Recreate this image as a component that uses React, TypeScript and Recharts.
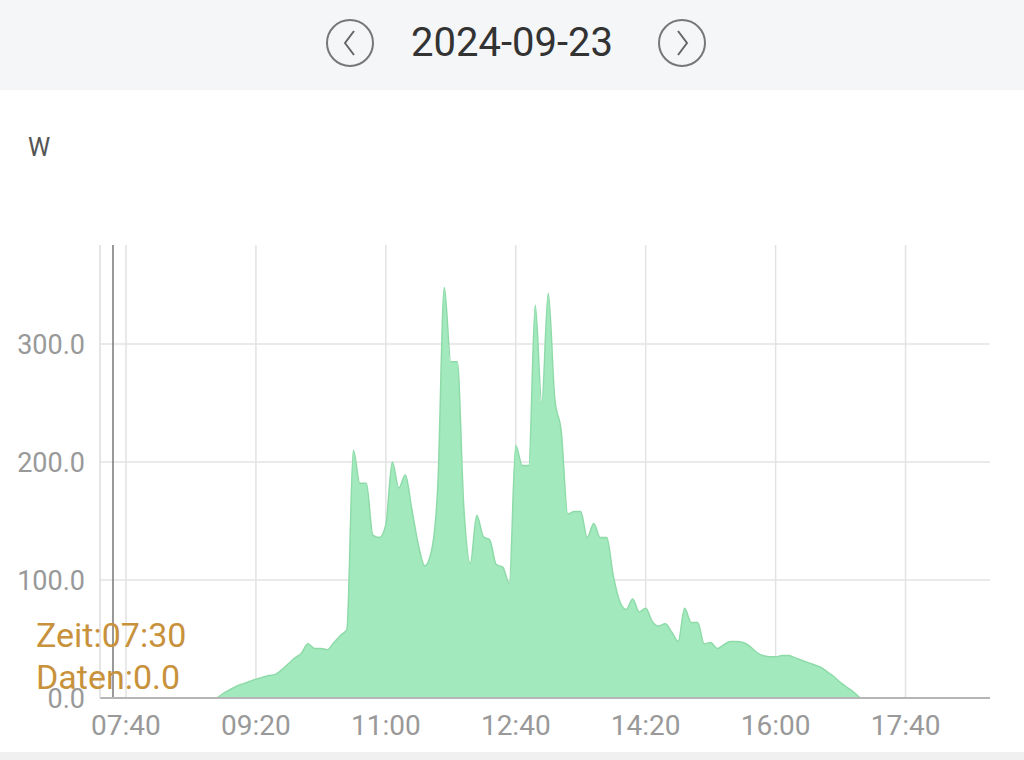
import { AreaChart, Area, XAxis, YAxis, CartesianGrid, ReferenceLine } from "recharts";

const times = [
    "08:50", "08:55", "09:00", "09:05", "09:10", "09:15", "09:20", "09:25", "09:30", "09:35",
    "09:40", "09:45", "09:50", "09:55", "10:00", "10:05", "10:10", "10:15", "10:20", "10:25",
    "10:30", "10:35", "10:40", "10:45", "10:50", "10:55", "11:00", "11:05", "11:10", "11:15",
    "11:20", "11:25", "11:30", "11:35", "11:40", "11:45", "11:50", "11:55", "12:00", "12:05",
    "12:10", "12:15", "12:20", "12:25", "12:30", "12:35", "12:40", "12:45", "12:50", "12:55",
    "13:00", "13:05", "13:10", "13:15", "13:20", "13:25", "13:30", "13:35", "13:40", "13:45",
    "13:50", "13:55", "14:00", "14:05", "14:10", "14:15", "14:20", "14:25", "14:30", "14:35",
    "14:40", "14:45", "14:50", "14:55", "15:00", "15:05", "15:10", "15:15", "15:20", "15:25",
    "15:30", "15:35", "15:40", "15:45", "15:50", "15:55", "16:00", "16:05", "16:10", "16:15",
    "16:20", "16:25", "16:30", "16:35", "16:40", "16:45", "16:50", "16:55", "17:00", "17:05",
]

const watts = [
    0, 4, 7, 10, 12, 14, 16, 17.5, 19, 20,
    24, 29, 34, 38, 46, 42, 42, 41, 47, 53,
    58, 210, 182, 182, 138, 136, 147, 200, 178, 189,
    160, 130, 112, 124, 180, 348, 285, 285, 162, 114,
    155, 137, 134, 113, 111, 97, 214, 197, 197, 333,
    250, 343, 254, 226, 156, 158, 158, 136, 148, 136,
    136, 104, 82, 75, 84, 73, 76, 65, 61, 63,
    56, 48, 76, 64, 64, 46, 47, 42, 45, 48,
    48, 47, 44, 39, 36, 35, 35, 36, 36, 34,
    32, 30, 28, 26, 22, 18, 13, 9, 5, 0,
]

const xTicks = ["07:40", "09:20", "11:00", "12:40", "14:20", "16:00", "17:40"]
const yTicks = [0, 100, 200, 300]

const xStart = "07:20"
const xEnd = "18:45"
const yMax = 384
const cursorTime = "07:30"
const cursorValue = 0

const toMin = (t: string) => {
    const [h, m] = t.split(":").map(Number)
    return h * 60 + m
}

const toTime = (v: number) => {
    const h = Math.floor(v / 60)
    const m = v % 60
    return `${String(h).padStart(2, "0")}:${String(m).padStart(2, "0")}`
}

const data = times.map((t, i) => ({ t: toMin(t), w: watts[i] }))

// grid only at the tick values, no frame round the plot
const hLines = ({ offset }: any) =>
    yTicks.filter(v => v > 0).map(v => offset.top + offset.height * (1 - v / yMax))
const vLines = ({ offset }: any) => {
    const a = toMin(xStart)
    const b = toMin(xEnd)
    return xTicks.map(t => offset.left + (offset.width * (toMin(t) - a)) / (b - a))
}

function Circle({ left, dir }: { left: number; dir: "l" | "r" }) {
    return (
        <svg width={52} height={52} style={{ position: "absolute", left, top: 17 }}>
            <circle cx={26} cy={26} r={23} fill="none" stroke="#777" strokeWidth={2} />
            {dir === "l" ? (
                <polyline points="30,14 21,26 30,38" fill="none" stroke="#666" strokeWidth={2} />
            ) : (
                <polyline points="22,14 31,26 22,38" fill="none" stroke="#666" strokeWidth={2} />
            )}
        </svg>
    )
}

export default function App() {
    return (
        <div style={{ position: "absolute", left: 0, top: 0, width: 1024, height: 760, background: "#fff", fontFamily: "Roboto, sans-serif", overflow: "hidden" }}>
            <div style={{ position: "absolute", left: 0, top: 0, width: 1024, height: 90, background: "#f5f6f8" }}>
                <Circle left={324} dir="l" />
                <div style={{ position: "absolute", left: 0, width: 1024, top: 17, textAlign: "center", fontSize: 40, color: "#333", lineHeight: "52px" }}>
                    2024-09-23
                </div>
                <Circle left={656} dir="r" />
            </div>
            <div style={{ position: "absolute", left: 28, top: 133, fontSize: 25, color: "#555" }}>W</div>
            <div style={{ position: "absolute", left: 0, top: 0 }}>
                <AreaChart width={1024} height={760} data={data} margin={{ top: 245, right: 34, bottom: 22, left: 0 }}>
                    <CartesianGrid
                        stroke="#e3e3e3"
                        strokeWidth={1.5}
                        horizontalCoordinatesGenerator={hLines}
                        verticalCoordinatesGenerator={vLines}
                    />
                    <XAxis
                        dataKey="t"
                        type="number"
                        domain={[toMin(xStart), toMin(xEnd)]}
                        ticks={xTicks.map(toMin)}
                        tickFormatter={toTime}
                        height={40}
                        tickLine={false}
                        tickMargin={11}
                        axisLine={{ stroke: "#b5b5b5", strokeWidth: 2 }}
                        tick={{ fill: "#999", fontSize: 28 }}
                    />
                    <YAxis
                        domain={[0, yMax]}
                        ticks={yTicks}
                        tickFormatter={(v: number) => v.toFixed(1)}
                        width={100}
                        tickLine={false}
                        tickMargin={9}
                        axisLine={{ stroke: "#ddd", strokeWidth: 1.5 }}
                        tick={{ fill: "#999", fontSize: 27 }}
                    />
                    <ReferenceLine x={toMin(cursorTime)} stroke="#777" strokeWidth={1.5} />
                    <Area
                        type="monotone"
                        dataKey="w"
                        stroke="#8edba9"
                        strokeWidth={1.5}
                        fill="#a2e9bd"
                        fillOpacity={1}
                        isAnimationActive={false}
                    />
                </AreaChart>
            </div>
            <div style={{ position: "absolute", left: 36, top: 614, fontSize: 34, lineHeight: "42px", color: "#c8923c" }}>
                <div>Zeit:{cursorTime}</div>
                <div>Daten:{cursorValue.toFixed(1)}</div>
            </div>
            <div style={{ position: "absolute", left: 0, top: 752, width: 1024, height: 8, background: "#f0f0f0" }} />
        </div>
    )
}
